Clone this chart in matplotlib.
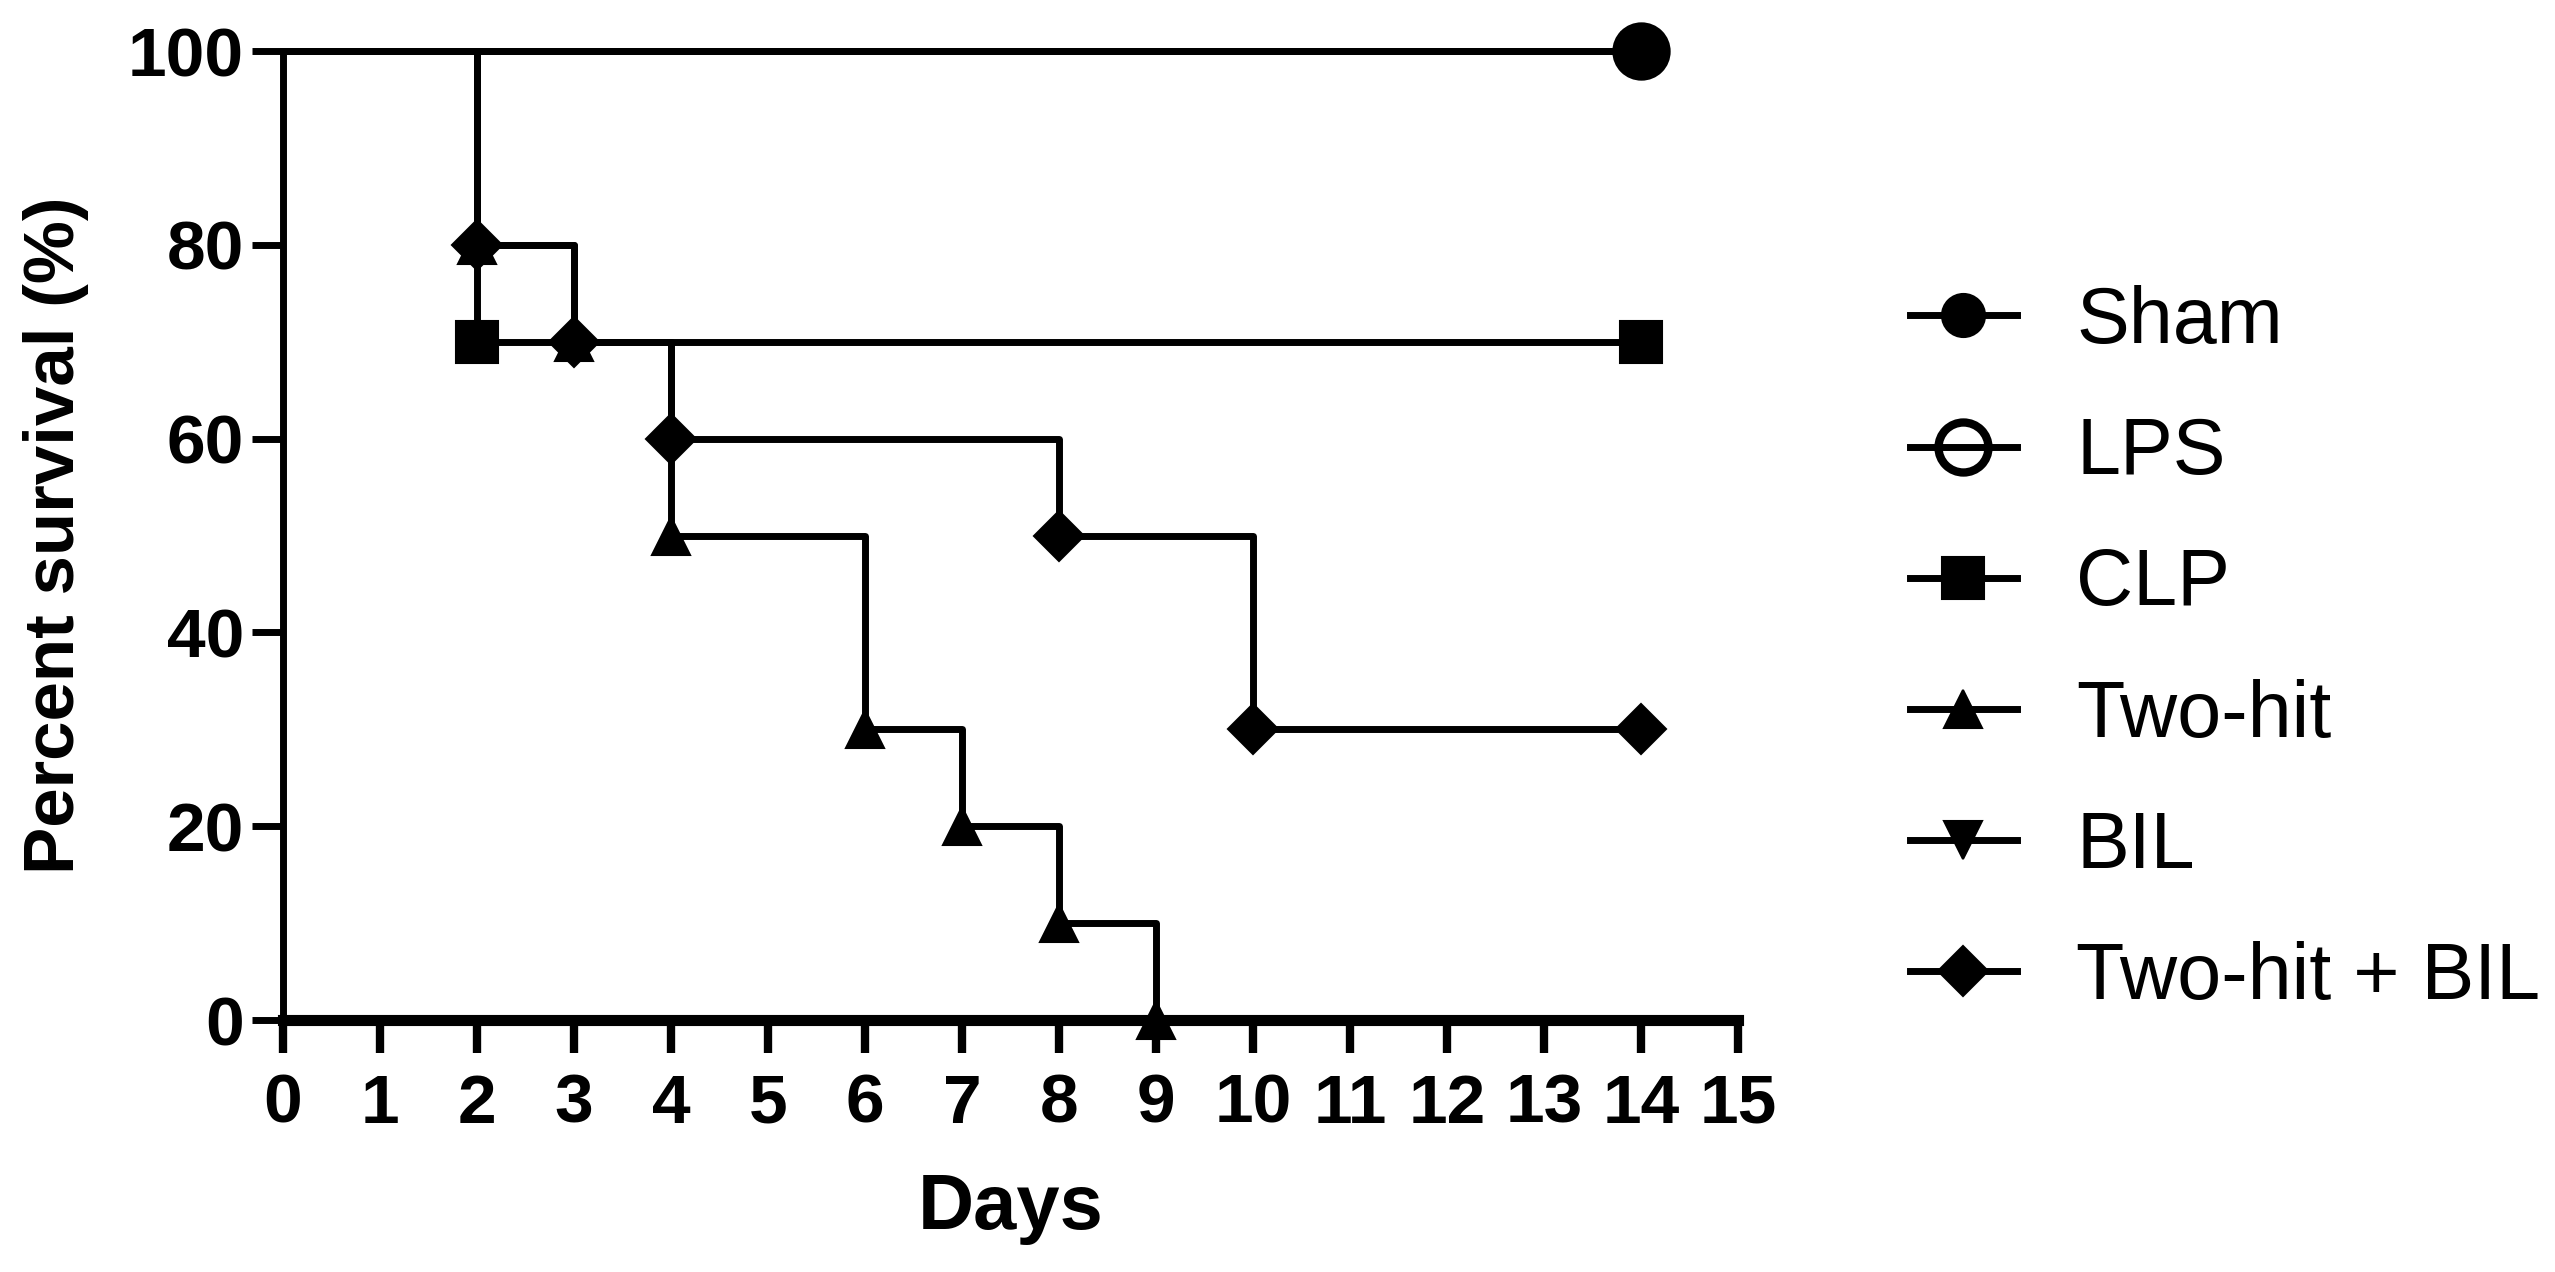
import matplotlib
matplotlib.use("Agg")
import matplotlib.pyplot as plt

plt.rcParams['font.family'] = ['Liberation Sans', 'DejaVu Sans']

# Kaplan-Meier style survival data (days, percent survival)
groups = ["Sham", "LPS", "CLP", "Two-hit", "BIL", "Two-hit + BIL"]
days = {
    "Sham": [0, 14],
    "LPS": [0, 14],
    "CLP": [0, 2, 14],
    "Two-hit": [0, 2, 3, 4, 6, 7, 8, 9],
    "BIL": [0, 14],
    "Two-hit + BIL": [0, 2, 3, 4, 8, 10, 14],
}
survival = {
    "Sham": [100, 100],
    "LPS": [100, 100],
    "CLP": [100, 70, 70],
    "Two-hit": [100, 80, 70, 50, 30, 20, 10, 0],
    "BIL": [100, 100],
    "Two-hit + BIL": [100, 80, 70, 60, 50, 30, 30],
}
markers = {"Sham": "o", "LPS": "o", "CLP": "s", "Two-hit": "^", "BIL": "v", "Two-hit + BIL": "D"}
msizes = {"Sham": 31, "LPS": 36, "CLP": 30, "Two-hit": 27, "BIL": 27, "Two-hit + BIL": 25}
zorders = {"Sham": 6, "LPS": 2, "CLP": 3, "Two-hit": 4, "BIL": 1, "Two-hit + BIL": 5}

fig = plt.figure(figsize=(25.55, 12.72), dpi=100)
ax = fig.add_axes([0.1108, 0.1981, 0.5695, 0.7618])

for g in groups:
    face = "none" if g == "LPS" else "black"
    ax.plot(days[g], survival[g], drawstyle="steps-post", color="black", lw=5,
            marker=markers[g], ms=msizes[g], mfc=face, mec="black", mew=6 if g == "LPS" else 1.5,
            markevery=slice(1, None), clip_on=False, zorder=zorders[g], label=g)

ax.set_xlim(0, 15)
ax.set_ylim(0, 100)
ax.set_xticks(range(0, 16))
ax.set_yticks([0, 20, 40, 60, 80, 100])
ax.spines["top"].set_visible(False)
ax.spines["right"].set_visible(False)
ax.spines["left"].set_linewidth(5)
ax.spines["bottom"].set_linewidth(8)
ax.tick_params(axis="x", length=24, width=6, pad=14, labelsize=50, direction="out")
ax.tick_params(axis="y", length=22, width=5, pad=6, labelsize=50, direction="out")
for lab in ax.get_xticklabels() + ax.get_yticklabels():
    lab.set_fontweight("bold")

ax.set_xlabel("Days", fontsize=56, fontweight="bold", labelpad=25)
ax.set_ylabel("Percent survival (%)", fontsize=51, fontweight="bold", labelpad=28)

ax.legend(loc="upper left", bbox_to_anchor=(1910 / 2555, 1 - 285 / 1272),
          bbox_transform=fig.transFigure, frameon=False, fontsize=57,
          borderpad=0, borderaxespad=0, labelspacing=0.71, handlelength=1.35,
          handletextpad=0.75, numpoints=1, markerscale=1)

fig.savefig("out.png", dpi=100)
